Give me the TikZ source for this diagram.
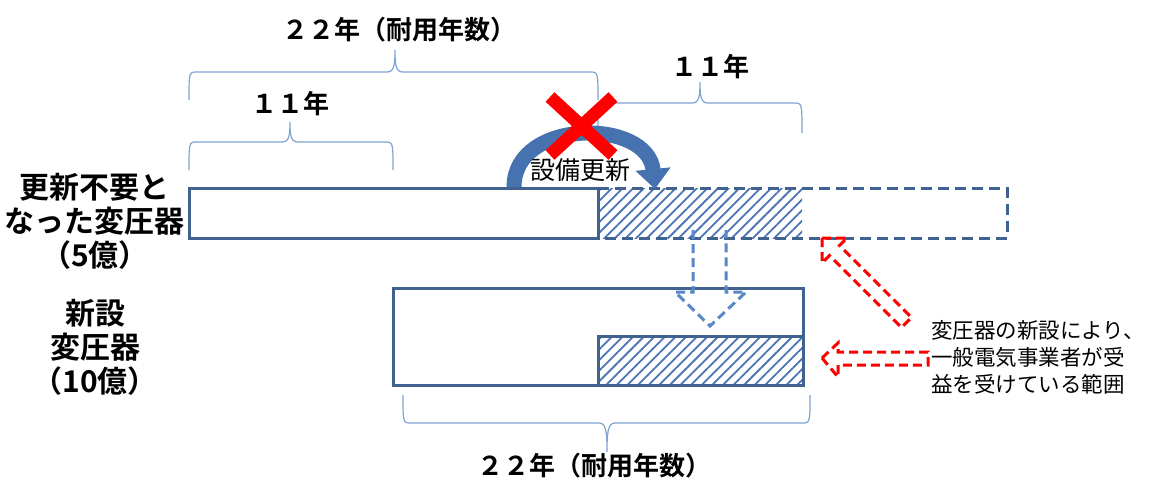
\documentclass[tikz,border=0pt]{standalone}
\usepackage{fontspec}
\newfontfamily\jp{Noto Sans CJK JP}[BoldFont={Noto Sans CJK JP Bold}]
\usetikzlibrary{arrows.meta,patterns.meta}
\definecolor{boxc}{HTML}{41618F}
\definecolor{hatchc}{HTML}{4A74B4}
\definecolor{darrow}{HTML}{5A87C8}
\definecolor{bracec}{HTML}{7FA3D3}
\definecolor{arcc}{HTML}{4672B0}
\newcommand\mybrace[6]{% x1 x2 xm ybar yend ypeak
  \draw[bracepath] (#1,#5) .. controls (#1,#4) and (#1,#4) .. (#1+8,#4) -- (#3-8,#4)
    .. controls (#3-1,#4) and (#3,{0.7*#4+0.3*#6}) .. (#3,#6)
    .. controls (#3,{0.7*#4+0.3*#6}) and (#3+1,#4) .. (#3+8,#4) -- (#2-8,#4)
    .. controls (#2,#4) and (#2,#4) .. (#2,#5);}
\begin{document}
\begin{tikzpicture}[x=1pt,y=-1pt,
  box/.style={draw=boxc,line width=3pt},
  dashbox/.style={draw=boxc,line width=3pt,dash pattern=on 11pt off 6pt},
  hatch/.style={pattern={Lines[angle=45,distance=7.5pt,line width=1.8pt]},pattern color=hatchc},
  bracepath/.style={draw=bracec,line width=1.2pt},
  dasharrow/.style={line width=3pt,dash pattern=on 9pt off 5pt,line join=miter},
  lbl/.style={inner sep=0pt,font=\jp\bfseries\fontsize{26pt}{30pt}\selectfont},
  side/.style={inner sep=0pt,align=center,font=\jp\bfseries\fontsize{30pt}{34pt}\selectfont},
]
\useasboundingbox[fill=white] (0,0) rectangle (1154,482);

% old transformer bar
\path[hatch] (598,188) rectangle (802,238);
\draw[dashbox] (598,188) -- (1007,188) -- (1007,238) -- (598,238);
\draw[box,fill=white] (189,188) rectangle (598,238);

% new transformer
\draw[box,fill=white] (393,288) rectangle (803,385);
\draw[box,hatch] (598,336) rectangle (803,385);

% dashed down arrow
\draw[dasharrow,darrow] (693,230) -- (693,292) -- (675,292) -- (710,326) -- (746,292) -- (726,292) -- (726,230);

% red dashed arrows
\draw[dasharrow,red] (822,238) -- (847,238) -- (839.5,245.5) -- (911.5,317.5) -- (901.5,327.5) -- (829.5,255.5) -- (822,263) -- cycle;
\draw[dasharrow,red] (822,358) -- (838,343) -- (838,352) -- (928,352) -- (928,365) -- (838,365) -- (838,377) -- cycle;

% braces
\mybrace{189}{598}{395}{72}{100}{50}
\mybrace{189}{393}{290}{142}{170}{122}
\mybrace{598}{802}{700}{103}{133}{82}
\mybrace{403}{810}{607}{423}{395}{452}

% renewal arc arrow
\draw[arcc,line width=15pt,-{Triangle[width=34pt,length=20pt]}] (514,187) .. controls (514,118) and (648,118) .. (655,189);
\node[inner sep=0pt,font=\jp\fontsize{25pt}{28pt}\selectfont] (koushin) at (580,170) {設備更新};
\draw[red,line width=13pt] (550,97) -- (613,155);
\draw[red,line width=13pt] (613,97) -- (550,155);

% labels
\node[lbl] (t22) at (399,30) {２２年（耐用年数）};
\node[lbl] (t11a) at (290,104) {１１年};
\node[lbl] (t11b) at (710,67) {１１年};
\node[lbl] (b22) at (594,466) {２２年（耐用年数）};
\node[side] (old) at (95,221) {更新不要と\\なった変圧器\\（5億）};
\node[side] (new) at (95,347) {新設\\変圧器\\（10億）};
\node[anchor=west,align=left,inner sep=0pt,font=\jp\fontsize{21.5pt}{27pt}\selectfont] (note) at (931,357) {変圧器の新設により、\\一般電気事業者が受\\益を受けている範囲};
\end{tikzpicture}
\end{document}
